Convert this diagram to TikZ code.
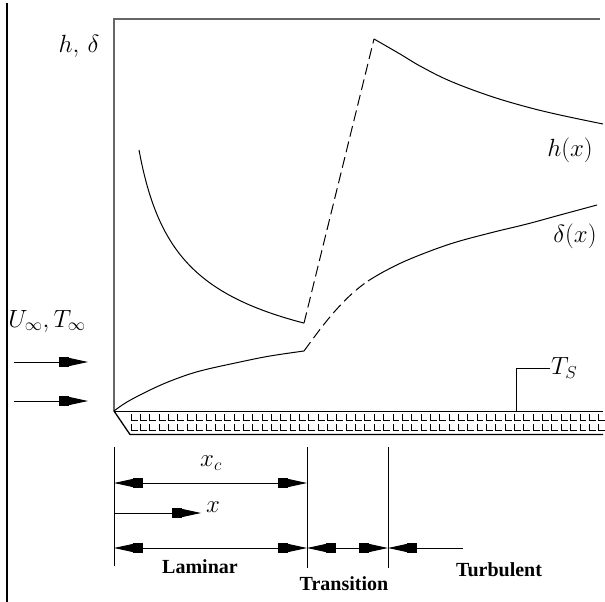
\documentclass[tikz,border=0pt]{standalone}
\usepackage{fontspec}
\setmainfont{Liberation Serif}
\usetikzlibrary{arrows.meta}
\begin{document}
\begin{tikzpicture}[x=1pt,y=-1pt,
  axisline/.style={draw=black!60, line width=1.6pt},
  curve/.style={draw=black, line width=1pt},
  dashcurve/.style={draw=black, line width=1pt, dash pattern=on 11pt off 5pt},
  dim/.style={draw=black, line width=0.9pt},
  hatch/.style={draw=black, line width=0.6pt},
  rtip/.style={-{Rectangle[length=10pt,width=10pt]Triangle[length=19pt,width=8pt]}},
  ltip/.style={{Triangle[length=19pt,width=8pt]Rectangle[length=10pt,width=10pt]}-},
  btip/.style={{Triangle[length=19pt,width=8pt]Rectangle[length=10pt,width=10pt]}-{Rectangle[length=10pt,width=10pt]Triangle[length=19pt,width=8pt]}},
  mlabel/.style={font=\fontsize{23}{26}\selectfont, inner sep=0pt},
  tlabel/.style={font=\fontsize{20}{22}\selectfont\bfseries, inner sep=0pt},
]
\useasboundingbox (0,0) rectangle (605,602);

% left frame line
\coordinate (lt) at (7,3);
\coordinate (lb) at (7,602);
\draw[line width=1.4pt] (lt) -- (lb);

% axes
\coordinate (O) at (114,411);
\coordinate (Ytop) at (114,19);
\coordinate (Xr) at (600,19);
\draw[axisline] (O) -- (Ytop) -- (Xr);

% plate
\coordinate (P1) at (114,411);
\coordinate (P2) at (603,411);
\coordinate (P3) at (130,434.5);
\coordinate (P4) at (603,434.5);
\draw[hatch] (P1) -- (P2);
\draw[line width=1.3pt] (P1) -- (P3) -- (P4);
\foreach \i in {0,...,50} {
  \pgfmathsetmacro\xx{131+9.35*\i}
  \draw[hatch] (\xx,414) -- (\xx,420.5) -- (\xx+6.5,420.5);
  \draw[hatch] (\xx,424) -- (\xx,430.5) -- (\xx+6.5,430.5);
}

% labels
\node[mlabel] (hd) at (79,46) {$h,\,\delta$};
\node[mlabel] (U) at (47,321) {$U_\infty,T_\infty$};
\node[mlabel] (hx) at (570,150) {$h(x)$};
\node[mlabel] (dx) at (575,236) {$\delta(x)$};
\node[mlabel, anchor=west, inner sep=1pt] (TS) at (550,368) {$T_S$};
\coordinate (tsd) at (516,411);
\draw[dim] (tsd) |- (TS.west);

% free stream arrows
\coordinate (a1s) at (14,362);
\coordinate (a1e) at (88,362);
\coordinate (a2s) at (14,401);
\coordinate (a2e) at (88,401);
\draw[dim, rtip] (a1s) -- (a1e);
\draw[dim, rtip] (a2s) -- (a2e);

% h curve
\draw[curve] plot[domain=139:304, samples=80, smooth] (\x,{421.6-1358/sqrt(\x-114)});
\coordinate (hmin) at (304,323.1);
\coordinate (hpk) at (374,39);
\draw[dashcurve] (hmin) -- (hpk);
\draw[curve] plot[smooth, tension=0.6] coordinates {(374,39) (400,54) (420,66) (450,81) (490,96) (527,107) (560,115) (603,124)};

% delta curve
\draw[curve] plot[smooth, tension=0.6] coordinates {(114,411) (127,402) (150,390) (173,380) (200,371) (240,362) (270,356) (304,351)};
\coordinate (dL) at (304,351);
\coordinate (dT) at (368,281);
\draw[dashcurve] (dL) .. controls (318,332) and (340,300) .. (dT);
\draw[curve] plot[smooth, tension=0.6] coordinates {(368,281) (385,271) (410,259) (450,244) (490,233) (527,224) (560,215) (597,205)};

% region brackets
\coordinate (v1t) at (114,447); \coordinate (v1b) at (114,566);
\coordinate (v2t) at (307,447); \coordinate (v2b) at (307,568);
\coordinate (v3t) at (388,447); \coordinate (v3b) at (388,568);
\draw[dim] (v1t) -- (v1b);
\draw[dim] (v2t) -- (v2b);
\draw[dim] (v3t) -- (v3b);

\coordinate (xc1) at (114,483); \coordinate (xc2) at (307,483);
\draw[dim, btip] (xc1) -- (xc2);
\node[mlabel] (xcl) at (211,463) {$x_c$};

\coordinate (xa1) at (114,513); \coordinate (xa2) at (201,513);
\draw[dim, rtip] (xa1) -- (xa2);
\node[mlabel] (xl) at (213,507) {$x$};

\coordinate (b1) at (114,548); \coordinate (b2) at (307,548);
\coordinate (b3) at (388,548); \coordinate (b4) at (463,548);
\draw[dim, btip] (b1) -- (b2);
\draw[dim, btip] (b2) -- (b3);
\draw[dim, ltip] (b3) -- (b4);

\node[tlabel] (lam) at (200,567) {Laminar};
\node[tlabel] (tra) at (344,584) {Transition};
\node[tlabel] (tur) at (499,570) {Turbulent};
\end{tikzpicture}
\end{document}
